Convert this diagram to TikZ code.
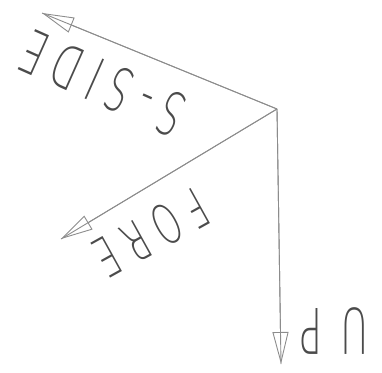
\documentclass[tikz,border=0pt]{standalone}
\usepackage{fontspec}
\usepackage{graphicx}
\usetikzlibrary{arrows.meta}
\newfontfamily\cadfont{DejaVu Sans ExtraLight}
\definecolor{linegray}{RGB}{140,140,140}
\definecolor{textgray}{RGB}{75,75,75}
\tikzset{
  axisline/.style={draw=linegray, line width=0.9pt},
  axisarrow/.style={draw=linegray, line width=0.9pt,
    -{Triangle[open,length=32pt,width=16pt,line width=0.9pt]}},
  lbl/.style={inner sep=0pt, text=textgray, font=\cadfont},
}
\begin{document}
\begin{tikzpicture}[x=1pt,y=-1pt]
\useasboundingbox (0,0) rectangle (382,372);
\coordinate (O) at (277,109);
\coordinate (sidetip) at (42,13);
\coordinate (foretip) at (61,239);
\coordinate (uptip) at (281,364);
\draw[axisline] (O) -- (sidetip);
\draw[axisline] (O) -- (foretip);
\draw[axisline] (O) -- (uptip);
\draw[axisarrow] (O) -- (sidetip);
\draw[axisarrow] (O) -- (foretip);
\draw[axisarrow] (O) -- (uptip);
\node[lbl, rotate=156] (sidelbl) at (103,83)
  {\scalebox{0.6}[1]{\fontsize{60}{60}\selectfont\addfontfeature{LetterSpace=29.5}S-SIDE}};
\node[lbl, rotate=209] (forelbl) at (151,233)
  {\scalebox{0.6}[1]{\fontsize{55}{55}\selectfont\addfontfeature{LetterSpace=33}FORE}};
\node[lbl, rotate=180] (uplbl) at (334,331)
  {\scalebox{0.6}[1]{\fontsize{63}{63}\selectfont\addfontfeature{LetterSpace=49}UP}};
\end{tikzpicture}
\end{document}
